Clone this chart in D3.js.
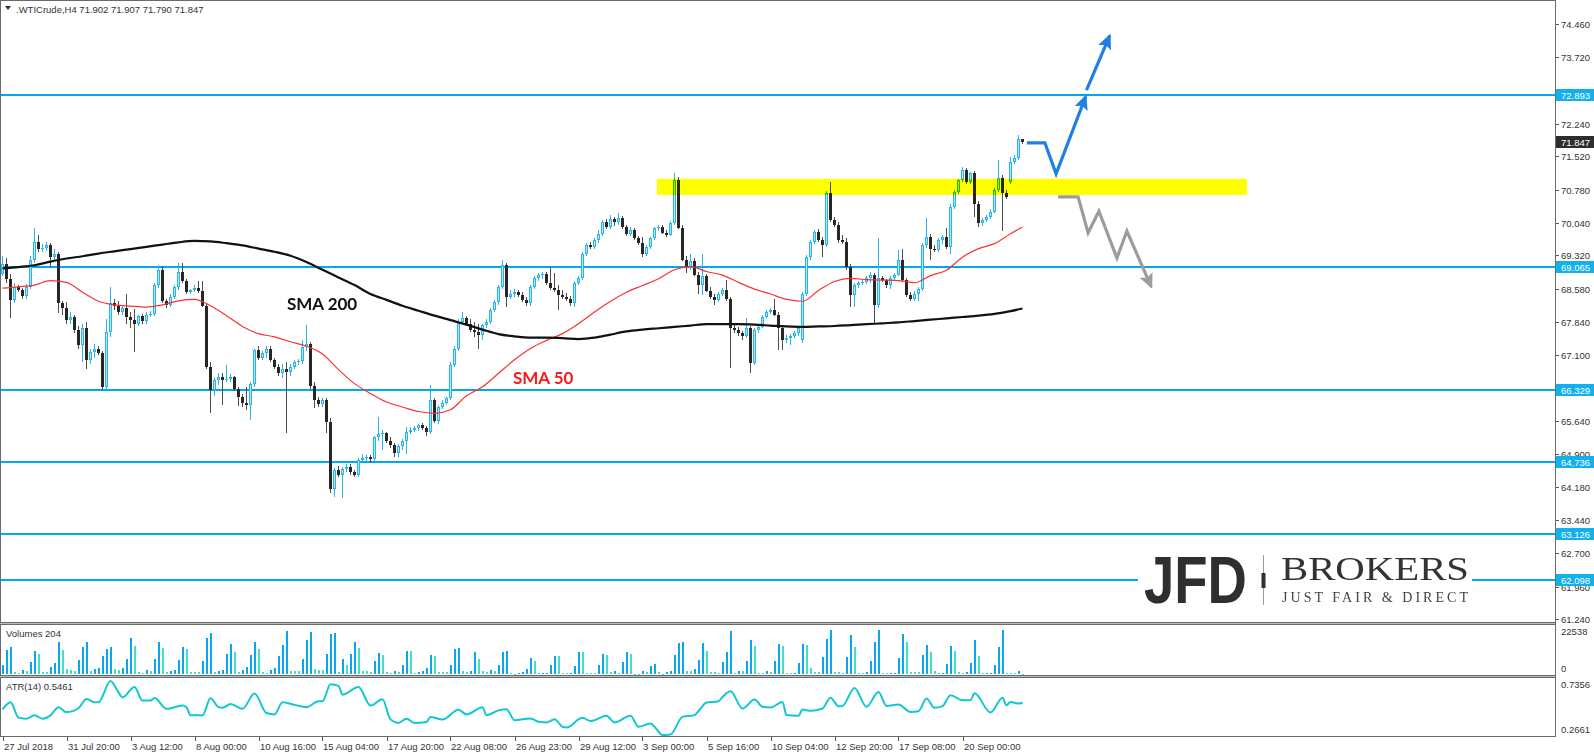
<!DOCTYPE html>
<html><head><meta charset="utf-8">
<script src="https://cdn.jsdelivr.net/npm/d3@7/dist/d3.min.js"></script>
<style>
html,body{margin:0;padding:0;background:#fff;}
svg{display:block;}
text{font-family:"Liberation Sans",Arial,sans-serif;}
</style></head><body>
<svg id="c" width="1594" height="754"></svg>
<script>
// ---------- DATA ----------
const open=[68.90,69.13,68.80,68.33,68.62,68.55,68.42,68.62,69.21,69.62,
69.45,69.48,69.56,69.29,69.36,68.25,68.14,67.88,67.95,67.66,
67.32,67.70,67.00,67.18,67.25,67.15,66.40,67.62,68.25,68.20,
68.05,68.15,67.95,67.88,67.80,67.98,67.86,68.00,68.02,68.66,
69.00,68.30,68.22,68.40,68.62,68.95,68.75,68.50,68.55,68.60,
68.52,68.20,66.85,66.33,66.55,66.62,66.55,66.58,66.62,66.35,
66.18,66.05,66.00,66.47,67.22,67.05,67.15,67.25,67.00,66.85,
66.70,66.80,66.72,66.85,66.95,66.98,67.28,67.35,66.42,66.10,
66.02,66.10,65.62,64.12,64.55,64.45,64.58,64.62,64.50,64.45,
64.78,64.82,64.85,64.80,65.28,65.35,65.38,65.20,65.10,64.92,
65.08,65.20,65.40,65.45,65.48,65.55,65.48,65.40,66.10,65.63,
65.95,66.05,66.15,66.88,67.25,67.85,67.92,67.80,67.66,67.62,
67.55,67.77,67.85,68.10,68.29,68.62,69.10,68.40,68.47,68.51,
68.44,68.33,68.25,68.62,68.81,68.88,68.90,68.70,68.59,68.55,
68.44,68.40,68.36,68.25,68.70,68.81,69.36,69.55,69.50,69.66,
69.80,70.05,69.95,70.12,70.05,70.15,69.95,69.80,69.88,69.70,
69.60,69.35,69.50,69.70,69.92,69.95,69.82,69.78,70.03,70.99,
69.92,69.22,69.07,69.20,68.88,68.66,68.85,68.52,68.40,68.33,
68.47,68.55,68.36,67.70,67.66,67.59,67.52,67.70,66.92,67.66,
67.73,67.96,68.07,68.10,68.00,67.70,67.44,67.48,67.53,67.59,
67.45,68.47,69.29,69.62,69.84,69.66,69.55,70.70,70.10,69.99,
69.66,69.62,69.07,68.44,68.66,68.70,68.73,68.81,68.88,68.22,
68.81,68.77,68.66,68.81,68.88,69.22,68.77,68.44,68.36,68.47,
68.58,69.55,69.73,69.47,69.44,69.66,69.73,69.51,70.40,70.73,
70.99,71.21,70.95,71.14,70.47,70.03,70.10,70.18,70.29,70.77,
71.03,70.70,70.95,71.40,71.48,71.902];
const high=[69.30,69.25,68.90,68.70,68.66,68.60,68.68,69.30,69.92,69.77,
69.58,69.62,69.60,69.45,69.40,68.30,68.28,68.05,68.00,67.75,
67.80,67.85,67.25,67.35,67.30,67.20,67.90,68.62,68.35,68.30,
68.22,68.45,68.05,68.12,68.00,68.02,68.05,68.08,68.70,69.10,
69.08,68.35,68.45,68.65,69.15,69.15,68.80,68.58,68.65,68.75,
68.75,68.25,66.95,66.60,66.70,66.70,66.88,66.68,66.65,66.40,
66.25,66.40,66.50,67.25,67.30,67.20,67.30,67.30,67.05,66.90,
66.90,66.95,66.90,67.00,67.02,67.45,67.77,67.40,66.50,66.18,
66.15,66.15,65.70,64.60,64.65,64.62,64.68,64.68,64.55,64.82,
64.90,64.88,64.88,65.30,65.73,65.45,65.40,65.28,65.15,65.12,
65.25,65.51,65.50,65.52,65.58,65.60,65.52,66.45,66.15,66.00,
66.10,66.18,66.95,67.30,67.90,68.07,67.98,67.90,67.85,67.80,
67.80,67.90,68.15,68.32,68.65,69.22,69.15,68.55,68.58,68.56,
68.50,68.40,68.66,68.85,68.92,68.95,68.95,69.07,68.92,68.65,
68.55,68.48,68.42,68.75,68.85,69.40,69.60,69.62,69.70,69.88,
70.10,70.12,70.22,70.18,70.25,70.20,70.00,69.95,69.92,69.75,
69.72,69.55,69.72,69.95,70.00,70.00,69.88,70.08,71.14,71.05,
70.00,69.30,69.36,69.25,68.95,69.36,68.90,68.62,68.45,68.50,
68.60,68.77,68.40,67.78,67.72,67.65,67.92,67.75,67.70,67.80,
68.00,68.10,68.15,68.36,68.05,67.75,67.55,67.58,67.65,67.75,
68.50,69.32,69.66,69.88,69.90,69.72,70.75,70.96,70.18,70.05,
69.78,69.70,69.12,68.70,68.75,68.78,68.85,68.95,68.92,69.70,
68.86,68.80,68.85,68.92,69.44,69.47,68.82,68.50,68.52,68.62,
69.60,70.14,69.80,69.55,69.70,69.78,69.92,70.45,70.78,71.02,
71.29,71.26,71.18,71.20,70.52,70.15,70.22,70.35,70.82,71.44,
71.10,70.78,71.50,71.55,71.99,71.907];
const low=[68.85,68.70,67.92,68.25,68.50,68.36,68.35,68.58,69.15,69.40,
69.40,69.42,69.06,69.20,68.03,68.00,67.80,67.80,67.60,67.25,
66.95,66.80,66.90,67.05,67.10,66.33,66.35,67.50,68.10,68.00,
68.00,67.80,67.70,67.18,67.75,67.80,67.80,67.95,67.98,68.60,
68.25,68.15,68.18,68.35,68.55,68.70,68.45,68.45,68.50,68.48,
68.18,66.80,65.82,66.20,66.45,65.99,66.50,66.50,66.30,65.98,
65.95,65.88,65.66,66.40,67.00,67.00,67.05,66.95,66.80,66.65,
66.60,65.37,66.65,66.80,66.88,66.90,67.20,66.35,65.92,65.95,
65.95,65.37,64.05,63.95,64.40,63.93,64.50,64.45,64.40,64.40,
64.72,64.75,64.70,64.75,65.20,65.00,65.15,65.05,64.85,64.85,
65.00,64.90,65.35,65.40,65.42,65.45,65.30,65.35,65.60,65.58,
65.90,66.00,66.10,66.85,67.20,67.80,67.75,67.62,67.51,67.25,
67.44,67.70,67.80,68.05,68.22,68.58,68.18,68.35,68.40,68.40,
68.28,68.20,68.20,68.58,68.75,68.80,68.65,68.55,68.50,68.10,
68.35,68.30,68.20,68.18,68.65,68.78,69.30,69.45,69.45,69.60,
69.75,69.90,69.90,69.98,70.00,69.90,69.75,69.75,69.65,69.55,
69.28,69.30,69.45,69.65,69.85,69.80,69.72,69.75,70.00,69.90,
69.20,68.92,69.00,68.85,68.47,68.44,68.50,68.35,68.22,68.28,
68.42,68.30,66.81,67.60,67.52,67.45,67.48,66.70,66.88,67.60,
67.70,67.92,68.02,67.98,67.22,67.22,67.38,67.32,67.48,67.52,
67.37,68.42,69.22,69.58,69.62,69.29,69.50,70.05,69.95,69.60,
69.58,69.00,68.18,68.18,68.60,68.65,68.68,68.70,67.81,68.15,
68.72,68.60,68.58,68.76,68.85,68.72,68.40,68.30,68.30,68.30,
68.52,69.48,69.22,69.40,69.40,69.58,69.45,69.36,70.35,70.68,
70.95,70.90,70.90,70.18,69.95,69.98,70.05,70.12,70.25,70.72,
69.87,70.58,70.90,71.35,71.44,71.790];
const close=[69.13,68.80,68.33,68.62,68.55,68.42,68.62,69.21,69.62,69.45,
69.48,69.56,69.29,69.36,68.25,68.14,67.88,67.95,67.66,67.32,
67.70,67.00,67.18,67.25,67.15,66.40,67.62,68.25,68.20,68.05,
68.15,67.95,67.88,67.80,67.98,67.86,68.00,68.02,68.66,69.00,
68.30,68.22,68.40,68.62,68.95,68.75,68.50,68.55,68.60,68.52,
68.20,66.85,66.33,66.55,66.62,66.55,66.58,66.62,66.35,66.18,
66.05,66.00,66.47,67.22,67.05,67.15,67.25,67.00,66.85,66.70,
66.80,66.72,66.85,66.95,66.98,67.28,67.35,66.42,66.10,66.02,
66.10,65.62,64.12,64.55,64.45,64.58,64.62,64.50,64.45,64.78,
64.82,64.85,64.80,65.28,65.35,65.38,65.20,65.10,64.92,65.08,
65.20,65.40,65.45,65.48,65.55,65.48,65.40,66.10,65.63,65.95,
66.05,66.15,66.88,67.25,67.85,67.92,67.80,67.66,67.62,67.55,
67.77,67.85,68.10,68.29,68.62,69.10,68.40,68.47,68.51,68.44,
68.33,68.25,68.62,68.81,68.88,68.90,68.70,68.59,68.55,68.44,
68.40,68.36,68.25,68.70,68.81,69.36,69.55,69.50,69.66,69.80,
70.05,69.95,70.12,70.05,70.15,69.95,69.80,69.88,69.70,69.60,
69.35,69.50,69.70,69.92,69.95,69.82,69.78,70.03,70.99,69.92,
69.22,69.07,69.20,68.88,68.66,68.85,68.52,68.40,68.33,68.47,
68.55,68.36,67.70,67.66,67.59,67.52,67.70,66.92,67.66,67.73,
67.96,68.07,68.10,68.00,67.70,67.44,67.48,67.53,67.59,67.70,
68.47,69.29,69.62,69.84,69.66,69.55,70.70,70.10,69.99,69.66,
69.62,69.07,68.44,68.66,68.70,68.73,68.81,68.88,68.22,68.81,
68.77,68.66,68.81,68.88,69.22,68.77,68.44,68.36,68.47,68.58,
69.55,69.73,69.47,69.44,69.66,69.73,69.51,70.40,70.73,70.99,
71.21,70.95,71.14,70.47,70.03,70.10,70.18,70.29,70.77,71.03,
70.70,70.62,71.40,71.48,71.902,71.847];
const volume=[4375,12250,14000,1225,525,2100,1750,6125,11725,10325,
1225,1150,3500,5600,16450,12250,2625,2100,1750,7000,
14000,16450,1750,2800,2900,9100,12600,13825,2400,2100,
3150,7525,18550,14350,875,350,2275,1750,7525,16450,
13125,875,1575,2100,7000,13825,12600,1225,1200,1150,
6475,18550,21175,1225,1750,1800,10325,15575,11200,1225,
2100,3500,9975,16450,12600,1225,525,2100,3150,9100,
15050,22000,1750,1700,1650,7875,17500,21700,2625,2100,
2000,10325,20650,21175,1225,7525,4375,10325,16450,13300,
1750,1700,1225,6475,10850,9625,875,300,1750,1225,
4375,11725,11700,350,1225,1750,3150,9625,9100,1225,
1200,1150,4375,12600,13300,1750,1225,1750,11200,7525,
1750,1225,2100,1750,4375,11328,11859,354,100,708,
1239,2655,8319,6549,354,400,708,4425,9204,9150,
708,354,708,3894,11328,11300,708,700,690,4425,
10443,9912,1239,1300,708,6018,11328,10443,177,100,
1770,1239,3894,4956,1239,100,1239,1300,9912,16107,
16200,1770,1700,2655,7080,16107,11859,885,800,750,
6018,11328,21948,708,1770,1700,6549,17169,14514,708,
354,1770,1239,6549,15576,14514,354,340,708,5664,
15576,15045,3009,1239,1100,8673,17700,22500,1239,1200,
708,8673,19824,13983,708,690,1239,6549,16638,22479,
600,354,708,750,8142,20355,16638,1239,1200,1150,
9912,15045,11328,1770,354,708,4956,14514,11859,1239,
708,1239,5487,17169,9204,354,400,708,4425,13983,
22538,708,700,690,1770,204];
const smaBars=[0,4,8,12,16,20,24,28,32,36,40,44,48,52,56,60,64,68,72,76,80,84,88,92,96,100,104,108,112,116,120,124,128,132,136,140,144,148,152,156,160,164,168,172,176,180,184,188,192,196,200,204,208,212,216,220,224,228,232,236,240,244,248,252,255];
const sma50=[68.59,68.62,68.66,68.76,68.72,68.50,68.30,68.22,68.19,68.17,
68.22,68.31,68.34,68.20,67.98,67.74,67.58,67.51,67.40,67.30,
67.13,66.78,66.47,66.25,66.06,65.95,65.85,65.81,65.89,66.20,
66.40,66.70,67.00,67.25,67.43,67.58,67.80,68.06,68.30,68.50,
68.65,68.80,69.00,69.07,68.96,68.88,68.72,68.57,68.46,68.34,
68.30,68.54,68.74,68.81,68.78,68.77,68.76,68.71,68.87,68.99,
69.28,69.47,69.58,69.80,69.95];
const sma200=[69.03,69.06,69.10,69.18,69.25,69.30,69.36,69.41,69.46,69.51,
69.56,69.61,69.64,69.63,69.59,69.54,69.47,69.40,69.31,69.17,
69.00,68.83,68.66,68.46,68.33,68.20,68.09,67.98,67.88,67.78,
67.67,67.57,67.52,67.49,67.49,67.48,67.46,67.49,67.56,67.63,
67.67,67.70,67.73,67.76,67.79,67.79,67.79,67.78,67.76,67.74,
67.73,67.74,67.75,67.77,67.79,67.81,67.83,67.86,67.89,67.92,
67.95,67.98,68.02,68.08,68.14];
const atrBars=[0,2,4,6,8,10,12,14,16,19,21,23,24,27,29,30,33,35,37,38,
41,45,46,47,50,52,54,55,57,60,63,66,68,70,73,76,79,80,82,84,
85,89,92,95,97,99,101,103,106,107,110,114,116,120,121,124,126,128,132,134,
136,138,140,141,145,147,148,151,153,157,159,162,163,165,167,170,173,174,176,179,
180,182,185,188,190,192,195,196,199,200,202,205,207,209,210,213,216,219,221,224,
227,229,231,233,235,237,240,242,243,247,250,251,252,254,255];
const atr=[0.488,0.551,0.417,0.408,0.437,0.408,0.437,0.508,0.465,0.499,
0.579,0.551,0.551,0.7356,0.636,0.593,0.684,0.565,0.565,0.588,
0.494,0.522,0.508,0.437,0.437,0.585,0.508,0.502,0.536,0.494,
0.627,0.457,0.445,0.551,0.528,0.508,0.559,0.559,0.707,0.693,
0.616,0.684,0.522,0.576,0.400,0.371,0.408,0.371,0.380,0.423,
0.400,0.485,0.445,0.508,0.437,0.480,0.491,0.395,0.410,0.381,
0.375,0.404,0.338,0.332,0.415,0.387,0.395,0.433,0.375,0.433,
0.338,0.366,0.338,0.2661,0.271,0.424,0.439,0.473,0.548,0.560,
0.597,0.646,0.496,0.574,0.511,0.505,0.554,0.439,0.433,0.488,
0.476,0.496,0.591,0.517,0.519,0.675,0.511,0.641,0.519,0.531,
0.467,0.473,0.583,0.502,0.517,0.612,0.568,0.568,0.629,0.462,
0.589,0.525,0.554,0.539,0.5461];
const timeBars=[0,16,32,48,64,80,96,112,128,144,160,176,192,208,224,240];
const timeLabels=["27 Jul 2018","31 Jul 20:00","3 Aug 12:00","8 Aug 00:00","10 Aug 16:00","15 Aug 04:00","17 Aug 20:00","22 Aug 08:00","26 Aug 23:00","29 Aug 12:00","3 Sep 00:00","5 Sep 16:00","10 Sep 04:00","12 Sep 20:00","17 Sep 08:00","20 Sep 00:00"];
const priceTicks=[74.460,73.720,72.980,72.240,71.520,70.780,70.040,69.320,68.580,67.840,67.100,66.360,65.640,64.900,64.180,63.440,62.700,61.960,61.240];
const levels=[72.893,69.065,66.329,64.736,63.126,62.098];
const lastPrice=71.847;
const volMax=22538, volLast=204;
const atrMax=0.7356, atrMin=0.2661, atrLast=0.5461;
const header=".WTICrude,H4  71.902 71.907 71.790 71.847";
// annotation shapes, in (bar, price) coordinates
const zoneBars=[163.6,311.1], zonePrices=[70.66,71.02];
const blueUp1=[[256.1,71.82],[260.6,71.82],[263.4,71.13],[270.8,72.85]];
const blueUp2=[[271.0,72.99],[276.8,74.20]];
const grayDown=[[263.9,70.62],[268.9,70.62],[271.4,69.82],[274.1,70.30],[278.6,69.26],[281.1,69.86],[287.2,68.62]];
const smaLabels=[{t:"SMA 200",bar:71.1,price:68.10,c:"#111"},{t:"SMA 50",bar:127.6,price:66.46,c:"#f51c1c"}];

// ---------- DRAW ----------
const svg=d3.select("#c");
const N=close.length;
const PX=1555; // right edge of plot
const x=d3.scaleLinear().domain([0,N-1]).range([2.5,2.5+4*(N-1)]);
const y=d3.scaleLinear().domain([61.24,74.46]).range([619,24]);
const yv=d3.scaleLinear().domain([0,volMax]).range([674,630]);
const ya=d3.scaleLinear().domain([atrMin,atrMax]).range([735,681]);
const LVL="#00a9ec", BULL="#2ab4ea", BULLF="#aee4f8", BEAR="#262626", BEARW="#4d4d4d";

svg.append("rect").attr("width",1594).attr("height",754).attr("fill","#fff");
const defs=svg.append("defs");
defs.append("clipPath").attr("id","mainclip").append("rect").attr("x",1).attr("y",1).attr("width",PX-1).attr("height",621);
function marker(id,col){
  defs.append("marker").attr("id",id).attr("markerUnits","userSpaceOnUse")
   .attr("markerWidth",16).attr("markerHeight",14).attr("refX",13).attr("refY",7).attr("orient","auto")
   .append("path").attr("d","M0,0 L15,7 L0,14 L3,7 Z").attr("fill",col);
}
marker("mb","#1f80e2"); marker("mg","#9c9c9c");

const main=svg.append("g").attr("clip-path","url(#mainclip)");
// horizontal levels
main.selectAll("line.lvl").data(levels).join("line")
  .attr("x1",0).attr("x2",PX).attr("y1",d=>Math.round(y(d))).attr("y2",d=>Math.round(y(d)))
  .attr("stroke",LVL).attr("stroke-width",2);

// candles
const cg=main.append("g").attr("shape-rendering","crispEdges");
d3.range(N).forEach(i=>{
  const o=open[i],h=high[i],l=low[i],c=close[i];
  const bull=c>=o;
  const cx=x(i);
  cg.append("line").attr("x1",cx).attr("x2",cx).attr("y1",Math.round(y(h))).attr("y2",Math.round(y(l)))
    .attr("stroke",bull?BULL:BEARW).attr("stroke-width",1);
  const top=Math.round(y(Math.max(o,c))), bot=Math.round(y(Math.min(o,c)));
  if(bull){
    cg.append("rect").attr("x",cx-1).attr("y",top+0.5).attr("width",2).attr("height",Math.max(bot-top-1,0.01))
      .attr("fill",BULLF).attr("stroke",BULL).attr("stroke-width",1);
  } else {
    cg.append("rect").attr("x",cx-1.5).attr("y",top).attr("width",3).attr("height",Math.max(bot-top,1))
      .attr("fill",BEAR);
  }
});

// moving averages
const lineGen=d3.line().x(d=>x(d[0])).y(d=>y(d[1])).curve(d3.curveMonotoneX);
main.append("path").attr("d",lineGen(smaBars.map((b,k)=>[b,sma50[k]]))).attr("fill","none").attr("stroke","#ff3030").attr("stroke-width",1.2);
main.append("path").attr("d",lineGen(smaBars.map((b,k)=>[b,sma200[k]]))).attr("fill","none").attr("stroke","#111").attr("stroke-width",2.2);

// yellow zone (multiply)
main.append("rect").attr("x",x(zoneBars[0])).attr("width",x(zoneBars[1])-x(zoneBars[0]))
  .attr("y",y(zonePrices[1])).attr("height",y(zonePrices[0])-y(zonePrices[1]))
  .attr("fill","#ffff00").style("mix-blend-mode","multiply");

// arrows
const pl=d3.line().x(d=>x(d[0])).y(d=>y(d[1]));
[[blueUp1,"#1f80e2","mb"],[blueUp2,"#1f80e2","mb"],[grayDown,"#9c9c9c","mg"]].forEach(([pts,col,m])=>{
  main.append("path").attr("d",pl(pts)).attr("fill","none").attr("stroke",col).attr("stroke-width",3.2)
    .attr("stroke-linejoin","miter").attr("marker-end",`url(#${m})`);
});

// SMA labels
main.selectAll("text.sma").data(smaLabels).join("text")
  .attr("x",d=>x(d.bar)).attr("y",d=>y(d.price)).text(d=>d.t)
  .attr("fill",d=>d.c).style("font-family","Lato, 'Open Sans', sans-serif").style("font-weight","700").style("font-size","17px");

// logo
const lg=main.append("g");
lg.append("rect").attr("x",1138).attr("y",546).attr("width",334).attr("height",64).attr("fill","#fff");
lg.append("text").attr("x",1144).attr("y",603).text("JFD").attr("fill","#2f2f2f")
  .style("font-family","'Liberation Sans',Arial,sans-serif").style("font-weight","700").style("font-size","66px")
  .attr("textLength",103).attr("lengthAdjust","spacingAndGlyphs");
lg.append("line").attr("x1",1263.5).attr("x2",1263.5).attr("y1",555).attr("y2",605).attr("stroke","#9a9a9a").attr("stroke-width",1);
lg.append("rect").attr("x",1261.5).attr("y",573).attr("width",4).attr("height",15).attr("fill","#2f2f2f");
lg.append("text").attr("x",1281).attr("y",580).text("BROKERS").attr("fill","#333")
  .style("font-family","'Liberation Serif','DejaVu Serif',serif").style("font-size","33px")
  .attr("textLength",188).attr("lengthAdjust","spacingAndGlyphs");
lg.append("text").attr("x",1282).attr("y",602).text("JUST FAIR & DIRECT").attr("fill","#444")
  .style("font-family","'Liberation Serif','DejaVu Serif',serif").style("font-size","14px")
  .attr("textLength",186).attr("lengthAdjust","spacing");

// panel frames
svg.append("rect").attr("x",0).attr("y",622).attr("width",PX+1).attr("height",3).attr("fill","#bdbdbd");
svg.append("rect").attr("x",0).attr("y",675).attr("width",PX+1).attr("height",3).attr("fill","#bdbdbd");
[[0.5,0.5,PX,622],[0.5,624.5,PX,51],[0.5,677.5,PX,59]].forEach(r=>{
  svg.append("rect").attr("x",r[0]).attr("y",r[1]).attr("width",r[2]).attr("height",r[3])
   .attr("fill","none").attr("stroke","#6a6a6a").attr("stroke-width",1);
});

// volumes
const vg=svg.append("g").attr("shape-rendering","crispEdges");
volume.forEach((v,i)=>{
  const up=i===0?true:v>volume[i-1];
  vg.append("rect").attr("x",x(i)-0.5).attr("width",2).attr("y",yv(v)).attr("height",Math.max(yv(0)-yv(v),1))
    .attr("fill",up?"#0aa6f0":"#3fe0c4");
});
// ATR
svg.append("path").attr("d",d3.line().x(d=>x(d[0])).y(d=>ya(d[1])).curve(d3.curveMonotoneX)(atrBars.map((b,k)=>[b,atr[k]])))
  .attr("fill","none").attr("stroke","#10c8d0").attr("stroke-width",2);

const T={fill:"#333","font-size":"9.5px"};
function txt(g,s,xx,yy){const t=g.append("text").attr("x",xx).attr("y",yy).text(s);Object.entries(T).forEach(([k,v])=>t.attr(k,v));return t;}
txt(svg,"Volumes "+volLast,6,636.5);
txt(svg,"ATR(14) "+atrLast.toFixed(4),6,690);

// right axis
const ax=svg.append("g");
ax.append("rect").attr("x",PX+1).attr("y",0).attr("width",1594-PX-1).attr("height",754).attr("fill","#fff");
priceTicks.forEach(p=>{
  const yy=Math.round(y(p));
  ax.append("line").attr("x1",PX).attr("x2",PX+4).attr("y1",yy+0.5).attr("y2",yy+0.5).attr("stroke","#555");
  txt(ax,d3.format(".3f")(p),1561,yy+3.5);
});
levels.forEach(p=>{
  const yy=Math.round(y(p));
  ax.append("rect").attr("x",PX+1).attr("y",yy-6).attr("width",38).attr("height",12).attr("fill","#13b0ee");
  ax.append("text").attr("x",1561).attr("y",yy+3.5).text(d3.format(".3f")(p)).attr("fill","#fff").attr("font-size","9.5px");
});
{
  const yy=Math.round(y(lastPrice));
  ax.append("rect").attr("x",PX+1).attr("y",yy-6).attr("width",38).attr("height",12).attr("fill","#2e2e2e");
  ax.append("text").attr("x",1561).attr("y",yy+3.5).text(d3.format(".3f")(lastPrice)).attr("fill","#fff").attr("font-size","9.5px");
}
txt(ax,String(volMax),1561,635);
txt(ax,"0",1561,671.5);
txt(ax,atrMax.toFixed(4),1561,687.5);
txt(ax,atrMin.toFixed(4),1561,732.5);
// right edge lines of frames
svg.append("line").attr("x1",PX+0.5).attr("x2",PX+0.5).attr("y1",0).attr("y2",737).attr("stroke","#6a6a6a");

// time axis
timeBars.forEach((b,k)=>{
  const xx=Math.round(x(b))+0.5;
  svg.append("line").attr("x1",xx).attr("x2",xx).attr("y1",737).attr("y2",741).attr("stroke","#555");
  txt(svg,timeLabels[k],xx+0.5,749.5);
});

// header
svg.append("path").attr("d","M5,6 L11,6 L8,10 Z").attr("fill","#333");
txt(svg,header,16,12.5);
</script>
</body></html>
